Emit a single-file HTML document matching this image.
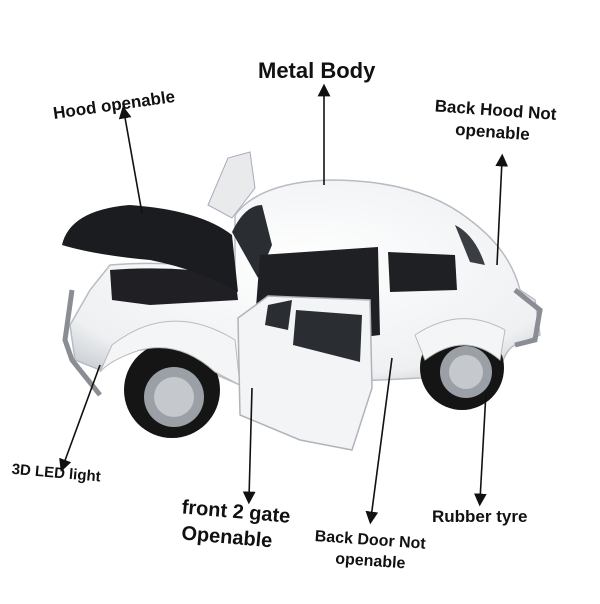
<!DOCTYPE html>
<html><head><meta charset="utf-8"><style>
html,body{margin:0;padding:0;background:#fff;width:600px;height:604px;overflow:hidden}
svg{display:block}
text{font-family:"Liberation Sans",sans-serif;font-weight:bold;fill:#111}
</style></head><body>
<svg width="600" height="604" viewBox="0 0 600 604">
<defs>
<marker id="a" markerWidth="8" markerHeight="8" refX="4" refY="4" orient="auto"><path d="M0,0 L8,4 L0,8 z" fill="#111"/></marker>
<radialGradient id="w" cx="0.5" cy="0.4" r="0.7"><stop offset="0" stop-color="#fff"/><stop offset="0.8" stop-color="#eef0f2"/><stop offset="1" stop-color="#c9cdd2"/></radialGradient>
</defs>
<!-- car body -->
<path d="M235,215 Q260,182 330,180 Q420,180 470,220 Q510,250 520,290 L535,300 L540,335 L515,345 Q505,350 500,370 L420,378 L380,380 L240,385 L210,372 Q180,345 140,350 Q105,355 100,370 L75,360 L70,325 L90,290 L110,265 Q170,260 235,270 Z" fill="url(#w)" stroke="#b8bcc2" stroke-width="1.5"/>
<!-- roof windows -->
<path d="M232,232 Q245,205 262,205 L272,245 L258,278 Z" fill="#2a2d31"/>
<path d="M455,225 Q475,235 485,265 L470,262 Z" fill="#3a3d42"/>
<!-- interior opening -->
<path d="M260,255 L378,247 L380,335 L300,345 L255,320 Z" fill="#1e2024"/>
<path d="M388,252 L455,255 L457,290 L390,292 Z" fill="#1e2024"/>
<!-- engine compartment -->
<path d="M110,270 Q170,265 235,275 L238,300 L150,305 L112,300 Z" fill="#1f1f24"/>
<!-- hood -->
<path d="M62,245 Q70,210 130,205 Q200,210 232,235 L238,292 Q200,270 150,260 Q95,255 62,245 Z" fill="#1b1c1f"/>
<!-- rear hood flap -->
<path d="M208,205 L228,158 L250,152 L255,188 L232,218 Z" fill="#e8eaec" stroke="#aab" stroke-width="1"/>
<!-- bumpers -->
<path d="M72,290 L65,340 L72,360 L100,395" fill="none" stroke="#8a8e94" stroke-width="5"/>
<path d="M515,290 L540,310 L535,340 L515,345" fill="none" stroke="#8a8e94" stroke-width="5"/>
<!-- wheels -->
<circle cx="172" cy="390" r="48" fill="#151515"/>
<circle cx="174" cy="397" r="30" fill="#9aa0a6"/>
<circle cx="174" cy="397" r="20" fill="#c5c9cd"/>
<circle cx="462" cy="368" r="42" fill="#151515"/>
<circle cx="466" cy="372" r="26" fill="#9aa0a6"/>
<circle cx="466" cy="372" r="17" fill="#c5c9cd"/>
<!-- fenders -->
<path d="M112,345 Q170,300 235,340 L240,385 L215,372 Q180,340 140,350 Q110,360 100,372 Z" fill="#f4f5f6" stroke="#bbb"/>
<path d="M415,335 Q460,305 505,330 L500,360 Q465,330 425,360 Z" fill="#f4f5f6" stroke="#bbb"/>
<!-- open door -->
<path d="M238,318 L268,296 L370,300 L372,388 L352,450 L300,440 L240,415 Z" fill="#f3f4f5" stroke="#b0b4ba" stroke-width="1.5"/>
<path d="M268,305 L292,300 L288,330 L265,325 Z" fill="#2a2d31"/>
<path d="M296,310 L362,315 L360,362 L293,345 Z" fill="#2a2d31"/>
<!-- arrows -->
<g stroke="#111" stroke-width="1.6" fill="none" marker-end="url(#a)">
<line x1="324" y1="185" x2="324" y2="90"/>
<line x1="142" y1="213" x2="124" y2="112"/>
<line x1="497" y1="265" x2="502" y2="160"/>
<line x1="100" y1="365" x2="63" y2="466"/>
<line x1="252" y1="388" x2="249" y2="498"/>
<line x1="392" y1="358" x2="371" y2="518"/>
<line x1="486" y1="392" x2="480" y2="500"/>
</g>
<!-- labels -->
<text x="258" y="78" font-size="22">Metal Body</text>
<text x="52" y="110" font-size="17" transform="rotate(-8 117 100)">Hood openable</text>
<text x="434" y="116" font-size="17" transform="rotate(4 500 120)">Back Hood Not</text>
<text x="456" y="138" font-size="17" transform="rotate(4 500 120)">openable</text>
<text x="11" y="478" font-size="15" transform="rotate(5 60 480)">3D LED light</text>
<text x="180" y="518" font-size="20" transform="rotate(5 234 530)">front 2 gate</text>
<text x="182" y="544" font-size="20" transform="rotate(5 234 530)">Openable</text>
<text x="314" y="545" font-size="16" transform="rotate(4 372 550)">Back Door Not</text>
<text x="336" y="566" font-size="16" transform="rotate(4 372 550)">openable</text>
<text x="432" y="522" font-size="17">Rubber tyre</text>
</svg>
</body></html>
